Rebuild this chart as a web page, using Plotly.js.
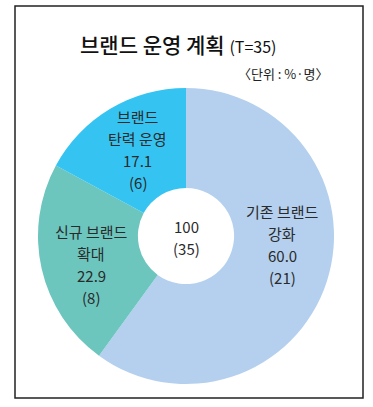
<!DOCTYPE html>
<html><head><meta charset="utf-8">
<script src="https://cdn.plot.ly/plotly-3.0.1.min.js"></script>
<style>html,body{margin:0;padding:0;background:#fff}#chart{width:373px;height:407px}</style>
</head><body><div id="chart"></div>
<script>
const categories = ['기존 브랜드<br>강화', '신규 브랜드<br>확대', '브랜드<br>탄력 운영'];
const percents = [60.0, 22.9, 17.1];
const counts = [21, 8, 6];
const totalPercent = '100';
const totalCount = 35;
const colors = ['#b4d0ee', '#6cc6be', '#35c4f2'];

const W = 373, H = 407;
const cx = 186, cy = 236, R = 148, holeFrac = 0.325;
const nudges = [[3, -22], [1, 7], [2, -2]];
const lineGap = 22;
const fontKR = '"Noto Sans CJK KR", "Noto Sans", sans-serif';
const txtColor = '#2a2a2a';

const trace = {
  type: 'pie',
  values: percents,
  labels: categories,
  marker: {colors: colors, line: {width: 0}},
  hole: holeFrac,
  sort: false,
  direction: 'clockwise',
  rotation: 0,
  textinfo: 'none',
  hoverinfo: 'none',
  showlegend: false,
  domain: {x: [(cx - R) / W, (cx + R) / W], y: [((H - cy) - R) / H, ((H - cy) + R) / H]}
};

const annotations = [];
function addLines(lines, px, py, size) {
  const n = lines.length;
  lines.forEach((t, k) => {
    const y = py + (k - (n - 1) / 2) * lineGap;
    annotations.push({
      x: px / W, y: 1 - y / H, xref: 'paper', yref: 'paper',
      xanchor: 'center', yanchor: 'middle',
      text: t, showarrow: false,
      font: {family: fontKR, size: size, color: txtColor}
    });
  });
}
const total = percents.reduce((a, b) => a + b, 0);
let cum = 0;
const rMid = R * (1 + holeFrac) / 2;
percents.forEach((v, i) => {
  const mid = (cum + v / 2) / total * 2 * Math.PI;
  cum += v;
  const px = cx + rMid * Math.sin(mid) + nudges[i][0];
  const py = cy - rMid * Math.cos(mid) + nudges[i][1];
  const lines = categories[i].split('<br>').concat([v.toFixed(1), '(' + counts[i] + ')']);
  addLines(lines, px, py, 15);
});
addLines([totalPercent, '(' + totalCount + ')'], cx, cy + 1, 15);

annotations.push({
  x: 178 / W, y: 1 - 44 / H, xref: 'paper', yref: 'paper', xanchor: 'center', yanchor: 'middle',
  text: '브랜드 운영 계획 <span style="font-size:16px;font-weight:400">(T=35)</span>',
  showarrow: false,
  font: {family: fontKR, size: 21, color: '#111', weight: 500}
});
annotations.push({
  x: 331 / W, y: 1 - 73 / H, xref: 'paper', yref: 'paper', xanchor: 'right', yanchor: 'middle',
  text: '〈단위 : %·명〉', showarrow: false,
  font: {family: fontKR, size: 13, color: '#222'}
});

const layout = {
  width: W, height: H,
  margin: {l: 0, r: 0, t: 0, b: 0},
  paper_bgcolor: '#fff',
  annotations: annotations,
  shapes: [{type: 'rect', xref: 'paper', yref: 'paper',
    x0: 15 / W, x1: 363 / W, y0: 1 - 398 / H, y1: 1 - 6 / H,
    line: {color: '#222', width: 1.5}}]
};
Plotly.newPlot('chart', [trace], layout, {displayModeBar: false, staticPlot: true});
</script></body></html>
